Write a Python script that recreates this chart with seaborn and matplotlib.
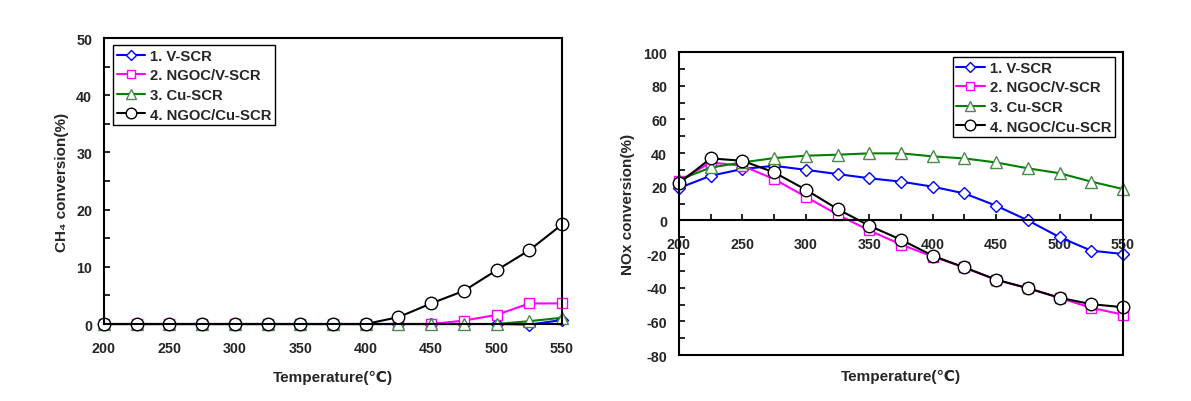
import matplotlib
matplotlib.use("Agg")
import matplotlib.pyplot as plt
import seaborn as sns
from matplotlib.ticker import MultipleLocator

sns.set_theme(style="white")
plt.rcParams['font.family'] = ['Liberation Sans', 'DejaVu Sans', 'Noto Sans CJK SC']
plt.rcParams['font.weight'] = 'bold'
plt.rcParams['axes.unicode_minus'] = False

temps = [200, 225, 250, 275, 300, 325, 350, 375, 400, 425, 450, 475, 500, 525, 550]
series_names = ["1. V-SCR", "2. NGOC/V-SCR", "3. Cu-SCR", "4. NGOC/Cu-SCR"]

ch4_vscr = [0, 0, 0, 0, 0, 0, 0, 0, 0, 0, 0, 0, 0, -0.1, 0.7]
ch4_ngoc_vscr = [0, 0, 0, 0, 0, 0, 0, 0, 0, 0, 0, 0.6, 1.6, 3.6, 3.6]
ch4_cuscr = [0, 0, 0, 0, 0, 0, 0, 0, 0, 0, 0, 0, 0, 0.5, 1.1]
ch4_ngoc_cuscr = [0, 0, 0, 0, 0, 0, 0, 0, 0, 1.2, 3.6, 5.8, 9.4, 12.9, 17.4]

nox_vscr = [19.2, 26.5, 30.5, 32.4, 30.0, 27.5, 25.0, 23.0, 20.0, 16.0, 8.7, 0.0, -10.0, -18.0, -20.0]
nox_ngoc_vscr = [23.5, 34.4, 32.4, 24.5, 14.0, 3.4, -6.0, -14.4, -21.5, -28.0, -35.4, -40.3, -46.0, -52.0, -56.0]
nox_cuscr = [24.0, 31.4, 34.4, 37.0, 38.4, 39.0, 39.8, 39.8, 38.0, 36.8, 34.4, 30.9, 28.0, 23.0, 18.6]
nox_ngoc_cuscr = [22.0, 36.8, 35.4, 28.5, 18.2, 6.7, -3.2, -11.5, -21.0, -28.0, -35.2, -40.3, -46.0, -49.8, -51.6]

line_colors = ["#0000ff", "#ff00ff", "#008000", "#000000"]
edge_colors = ["#0000ff", "#ff00ff", "#4a8a4a", "#000000"]
markers = ["D", "s", "^", "o"]
msizes = [6.5, 7, 8.5, 9]

fig = plt.figure(figsize=(11.91, 4.02), dpi=100)
ax1 = fig.add_axes([0.0873, 0.1915, 0.3846, 0.7114])
ax2 = fig.add_axes([0.5701, 0.1144, 0.3728, 0.7537])

def draw(ax, data):
    for name, vals, c, ec, m, ms in zip(series_names, data, line_colors, edge_colors, markers, msizes):
        sns.lineplot(x=temps, y=vals, ax=ax, color=c, marker=m, markersize=ms,
                     markerfacecolor="white", markeredgecolor=ec, markeredgewidth=1.0,
                     linewidth=1.5, label=name, clip_on=False)

draw(ax1, [ch4_vscr, ch4_ngoc_vscr, ch4_cuscr, ch4_ngoc_cuscr])
draw(ax2, [nox_vscr, nox_ngoc_vscr, nox_cuscr, nox_ngoc_cuscr])

# Left axes
ax1.set_xlim(200, 550)
ax1.set_ylim(0, 50)
ax1.xaxis.set_major_locator(MultipleLocator(50))
ax1.xaxis.set_minor_locator(MultipleLocator(25))
ax1.yaxis.set_major_locator(MultipleLocator(10))
ax1.yaxis.set_minor_locator(MultipleLocator(5))
ax1.set_xlabel("Temperature(℃)", fontsize=11, fontweight='bold')
ax1.xaxis.set_label_coords(0.5, -0.185)
ax1.xaxis.label.set_va('center')
ax1.set_ylabel("CH₄ conversion(%)", fontsize=11, fontweight='bold')
ax1.yaxis.set_label_coords(-0.0917, 0.5)
ax1.yaxis.label.set_va('center')

# Right axes
ax2.set_xlim(200, 550)
ax2.set_ylim(-80, 100)
ax2.xaxis.set_major_locator(MultipleLocator(50))
ax2.xaxis.set_minor_locator(MultipleLocator(25))
ax2.yaxis.set_major_locator(MultipleLocator(20))
ax2.yaxis.set_minor_locator(MultipleLocator(10))
ax2.spines['bottom'].set_position(('data', 0))
ax2.plot([0, 1], [0, 0], transform=ax2.transAxes, color='black', lw=1.5, clip_on=False)
ax2.set_xlabel("Temperature(℃)", fontsize=11, fontweight='bold')
ax2.xaxis.set_label_coords(0.5, -0.0693)
ax2.xaxis.label.set_va('center')
ax2.set_ylabel("NOx conversion(%)", fontsize=11, fontweight='bold')
ax2.yaxis.set_label_coords(-0.1149, 0.5)
ax2.yaxis.label.set_va('center')

for ax in (ax1, ax2):
    for s in ax.spines.values():
        s.set_color('black')
        s.set_linewidth(1.5)
    ax.tick_params(which='both', direction='in', color='black', width=1.2, length=4)
    ax.tick_params(axis='x', which='major', labelsize=10.3, pad=12)
    ax.tick_params(axis='y', which='major', labelsize=10.3, pad=8.5)
    ax.tick_params(axis='x', bottom=True, which='both')
    ax.tick_params(axis='y', left=True, which='both')
    for lab in ax.get_xticklabels() + ax.get_yticklabels():
        lab.set_fontweight('bold')
    ax.grid(False)

leg_kw = dict(borderaxespad=0, frameon=True, fancybox=False, edgecolor='black', framealpha=1,
              prop={'weight': 'bold', 'size': 10.7}, handlelength=1.9, handletextpad=0.35,
              labelspacing=0.38, borderpad=0.25, markerscale=0.85)
leg1 = ax1.legend(loc='upper left', bbox_to_anchor=(0.0197, 0.9755), **leg_kw)
leg1.get_frame().set_linewidth(1.0)
leg2 = ax2.legend(loc='upper right', bbox_to_anchor=(0.982, 0.9835), **leg_kw)
leg2.get_frame().set_linewidth(1.0)

fig.savefig("out.png", dpi=100)
